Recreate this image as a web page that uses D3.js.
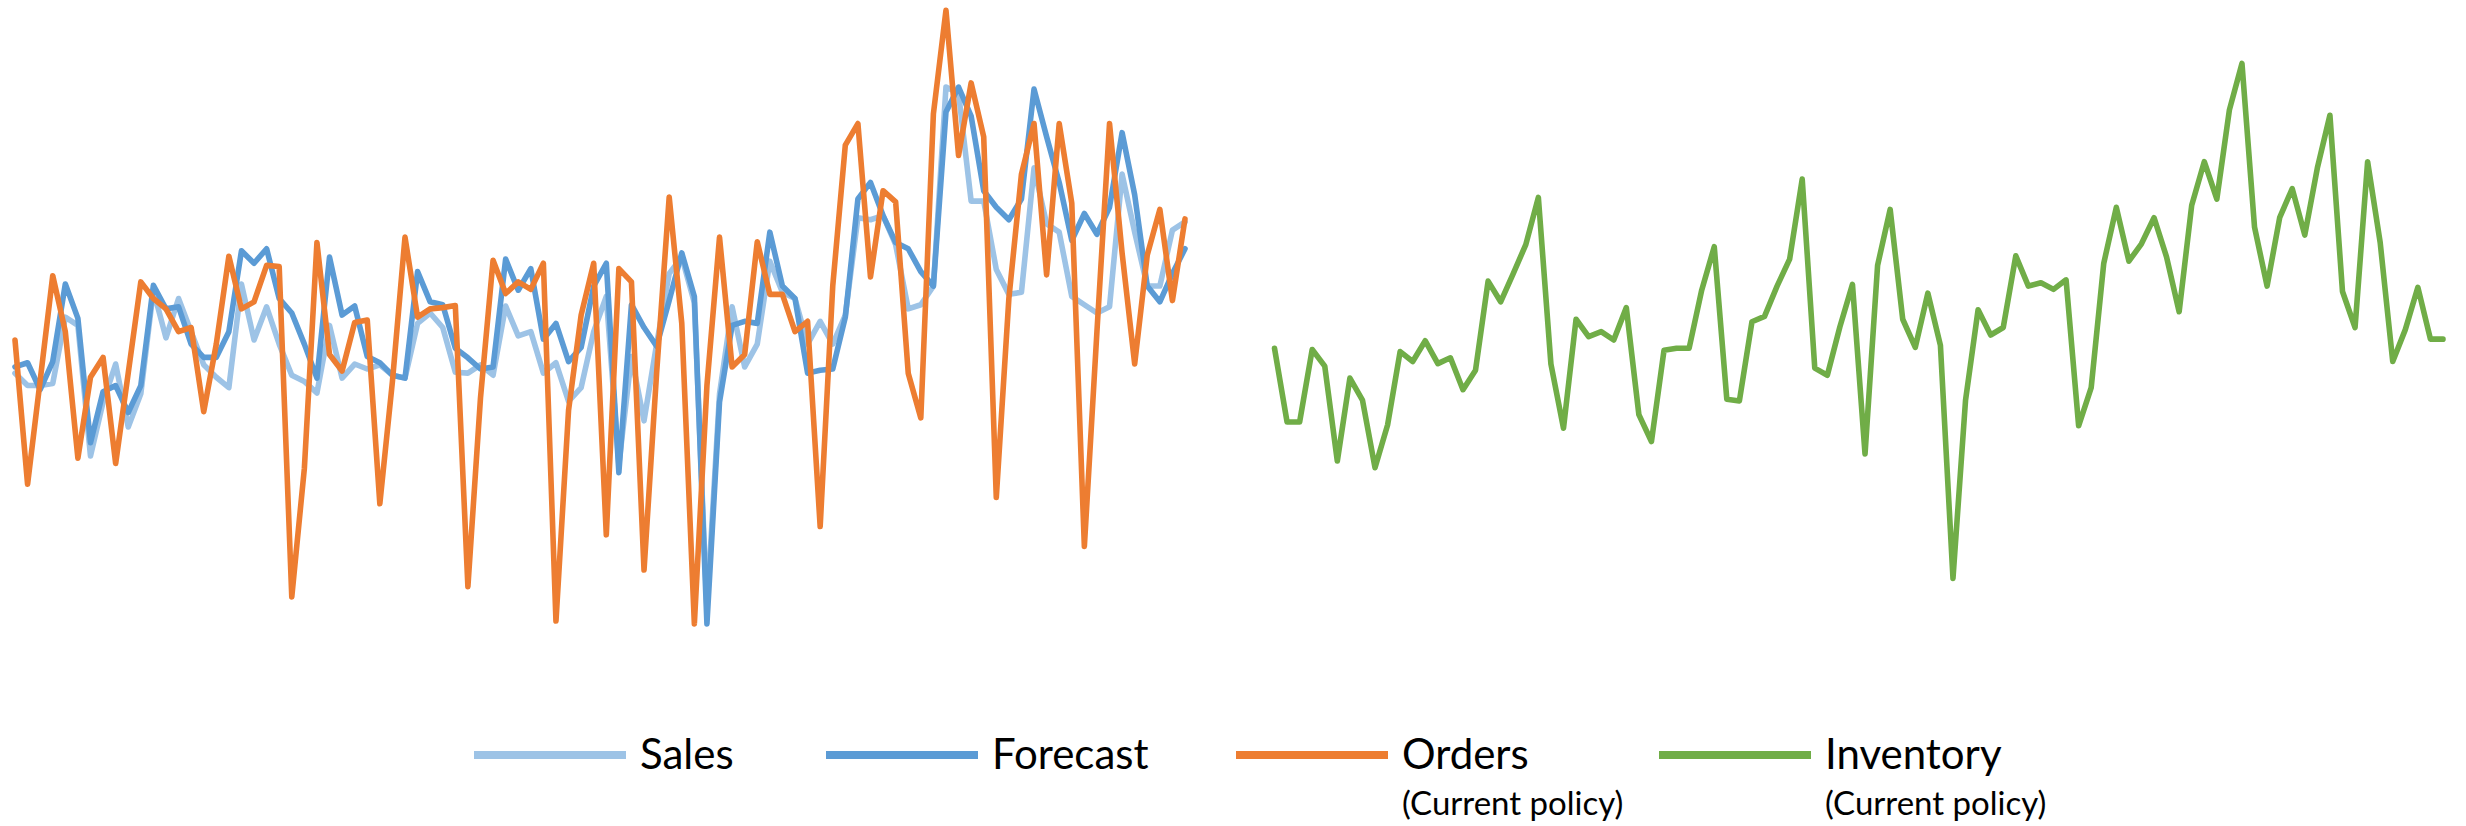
<!DOCTYPE html>
<html>
<head>
<meta charset="utf-8">
<script src="https://cdn.jsdelivr.net/npm/d3@7"></script>
<style>
  html, body { margin: 0; padding: 0; background: #ffffff; }
  svg { display: block; }
</style>
</head>
<body>
<svg id="chart" width="2466" height="826"></svg>
<script>
// Weekly series (units)
const sales = [
  70.0, 67.0, 67.0, 67.5, 83.5, 81.5, 50.0, 63.0, 72.2, 57.0,
  65.0, 90.0, 78.5, 88.0, 80.0, 72.0, 69.0, 66.5, 91.5, 78.0,
  86.0, 77.0, 69.5, 68.0, 65.2, 81.5, 68.8, 72.2, 71.0, 72.0,
  69.5, 68.8, 82.0, 84.5, 81.0, 70.2, 70.0, 72.0, 69.5, 86.2,
  79.0, 80.0, 70.0, 72.5, 63.2, 66.5, 80.0, 88.5, 48.0, 74.0,
  58.5, 77.0, 94.0, 98.0, 87.0, 13.0, 65.0, 86.0, 71.5, 77.0,
  97.0, 89.5, 88.0, 77.0, 82.5, 77.0, 84.0, 107.5, 107.0, 108.0,
  101.0, 85.5, 86.5, 91.0, 139.0, 137.5, 111.5, 111.5, 95.0, 89.0,
  89.5, 119.5, 106.0, 104.0, 88.5, 86.5, 84.5, 86.0, 118.0, 104.0,
  91.0, 91.0, 104.5, 106.5
];

const forecast = [
  71.5, 72.5, 66.0, 72.8, 91.5, 83.2, 53.2, 65.5, 67.0, 60.5,
  67.0, 91.2, 85.5, 86.0, 77.0, 73.8, 73.8, 80.0, 99.5, 96.5,
  100.0, 88.0, 84.5, 77.0, 68.8, 98.0, 84.0, 86.2, 74.0, 72.5,
  69.5, 68.8, 94.5, 87.2, 86.5, 76.0, 73.7, 71.0, 71.5, 97.5,
  90.0, 95.2, 78.2, 82.0, 72.8, 76.2, 91.0, 96.5, 46.0, 86.5,
  81.0, 76.5, 87.5, 99.0, 88.5, 9.5, 63.0, 81.5, 82.5, 82.0,
  104.0, 91.0, 88.0, 70.0, 70.7, 71.0, 83.5, 112.0, 116.0, 108.0,
  101.5, 100.0, 94.5, 91.0, 133.0, 139.0, 132.0, 114.0, 110.0, 107.0,
  112.0, 138.5, 127.0, 116.0, 102.0, 108.5, 103.5, 110.0, 128.0, 113.0,
  91.0, 87.2, 94.0, 100.0
];

const orders = [
  78.0, 43.2, 68.2, 93.5, 80.0, 49.5, 69.0, 73.8, 48.2, 70.0,
  92.0, 88.0, 85.5, 80.0, 81.0, 60.7, 77.0, 98.2, 85.5, 87.2,
  96.0, 95.7, 16.0, 47.0, 101.5, 74.5, 70.5, 82.2, 82.8, 38.5,
  68.0, 102.8, 83.5, 85.5, 85.8, 86.3, 18.5, 64.0, 97.2, 89.2,
  92.0, 90.2, 96.5, 10.2, 61.0, 84.0, 96.5, 31.0, 95.2, 92.0,
  22.5, 70.0, 112.5, 82.0, 9.5, 67.0, 102.8, 71.5, 74.5, 101.7,
  89.0, 89.0, 80.0, 82.5, 33.0, 91.0, 125.0, 130.2, 93.2, 114.0,
  111.3, 70.0, 59.2, 132.5, 157.5, 122.5, 140.0, 127.0, 40.0, 88.0,
  118.0, 130.2, 93.7, 130.2, 111.0, 28.2, 80.0, 130.2, 99.0, 72.2,
  98.5, 109.5, 87.5, 107.2
];

const inventory = [
  76.0, 58.2, 58.2, 75.7, 71.7, 48.8, 68.8, 63.5, 47.2, 57.5,
  75.2, 72.8, 77.8, 72.3, 73.7, 66.0, 70.7, 92.2, 87.2, 94.0,
  101.0, 112.4, 72.2, 56.7, 83.0, 78.8, 80.0, 78.0, 85.8, 60.0,
  53.5, 75.5, 76.0, 76.0, 90.0, 100.5, 63.7, 63.3, 82.4, 83.7,
  91.0, 97.5, 116.8, 71.2, 69.5, 81.2, 91.4, 50.5, 96.0, 109.5,
  83.0, 76.2, 89.3, 76.7, 20.5, 63.5, 85.3, 79.2, 81.0, 98.3,
  91.0, 91.8, 90.2, 92.5, 57.3, 66.5, 96.5, 110.0, 97.0, 101.2,
  107.5, 98.0, 84.8, 110.5, 121.0, 112.0, 133.5, 144.7, 105.2, 91.0,
  107.5, 114.5, 103.3, 119.5, 132.2, 89.7, 81.0, 121.0, 101.5, 72.8,
  80.5, 90.7, 78.2, 78.2
];

// Week numbers along the horizontal axis
const weeks = d3.range(1, sales.length + 1);

// Legend entries
const legendLabels = ["Sales", "Forecast", "Orders", "Inventory"];
const legendNotes = ["", "", "(Current policy)", "(Current policy)"];

// ---- drawing ----
const svg = d3.select("#chart");
const palette = {
  Sales: "#9DC3E6",
  Forecast: "#5B9BD5",
  Orders: "#ED7D31",
  Inventory: "#70AD47"
};

const y = d3.scaleLinear().domain([0, 160]).range([663.35, 0]);
const xLeft = d3.scaleLinear().domain([1, weeks.length]).range([15, 1185]);
const xRight = d3.scaleLinear().domain([1, weeks.length]).range([1274.5, 2443]);

function drawSeries(values, xScale, color) {
  const line = d3.line()
    .x((d, i) => xScale(weeks[i]))
    .y(d => y(d));
  svg.append("path")
    .datum(values)
    .attr("d", line)
    .attr("fill", "none")
    .attr("stroke", color)
    .attr("stroke-width", 5.6)
    .attr("stroke-linejoin", "round")
    .attr("stroke-linecap", "round");
}

// Left panel: sales, forecast and resulting orders
drawSeries(sales, xLeft, palette.Sales);
drawSeries(forecast, xLeft, palette.Forecast);
drawSeries(orders, xLeft, palette.Orders);

// Right panel: inventory
drawSeries(inventory, xRight, palette.Inventory);

// Legend
const legendStart = [474, 826, 1236, 1659];
const legend = svg.append("g").attr("class", "legend");
legendLabels.forEach((label, i) => {
  const g = legend.append("g").attr("transform", `translate(${legendStart[i]},0)`);
  g.append("line")
    .attr("x1", 0).attr("x2", 152)
    .attr("y1", 755).attr("y2", 755)
    .attr("stroke", palette[label])
    .attr("stroke-width", 8);
  g.append("text")
    .attr("x", 166).attr("y", 769)
    .attr("font-family", "Lato, 'Open Sans', sans-serif")
    .attr("font-size", 42)
    .attr("fill", "#000")
    .text(label);
  if (legendNotes[i]) {
    g.append("text")
      .attr("x", 166).attr("y", 815)
      .attr("font-family", "Lato, 'Open Sans', sans-serif")
      .attr("font-size", 33)
      .attr("fill", "#000")
      .text(legendNotes[i]);
  }
});
</script>
</body>
</html>
